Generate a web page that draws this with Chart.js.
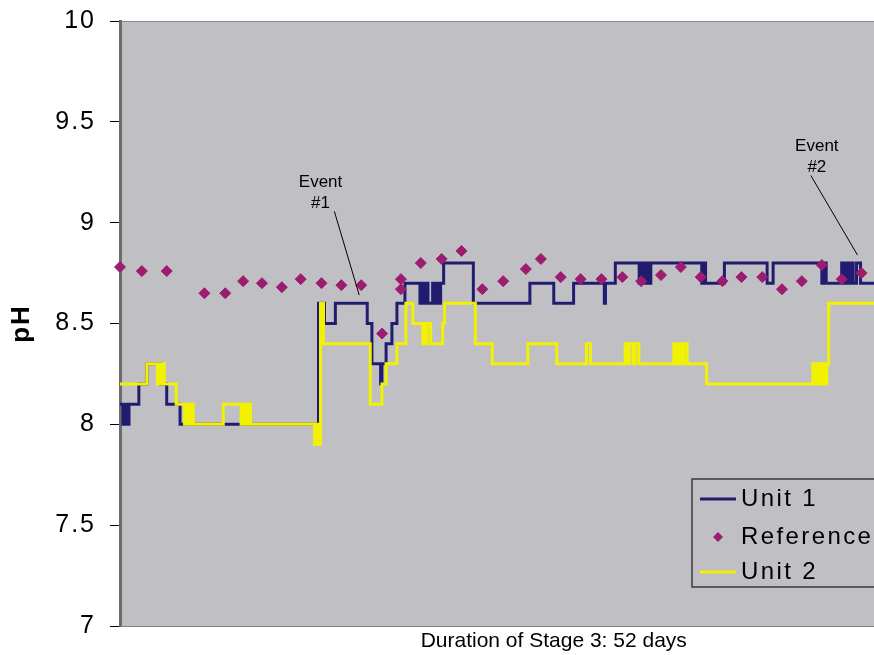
<!DOCTYPE html>
<html>
<head>
<meta charset="utf-8">
<title>pH - Stage 3</title>
<script src="https://cdn.jsdelivr.net/npm/chart.js@4.4.1/dist/chart.umd.min.js"></script>
<style>
    html, body { margin: 0; padding: 0; background: #fff; overflow: hidden; }
    #wrap { width: 994px; height: 655px; }
</style>
</head>
<body>
<div id="wrap"><canvas id="chart" width="994" height="655"></canvas></div>
<script>
// Unit 1 : jour du changement -> pH (la valeur tient jusqu'au point suivant)
const unit1Day = [0, 0.18, 0.30, 0.42, 0.54, 1.13, 1.61, 2.44, 2.80, 3.60,
    11.90, 12.26, 12.91, 14.82, 15.10, 15.62, 15.70, 15.95, 16.30, 16.60, 17.08,
    17.98, 18.10, 18.22, 18.34, 18.46, 18.74, 18.86, 18.98, 19.10, 19.22, 19.40,
    21.18, 24.57, 26.00, 27.19, 29.03, 29.10, 29.69,
    31.12, 31.26, 31.40, 31.54, 31.68, 31.82, 34.87, 34.98, 35.10, 36.23, 38.79, 39.15,
    42.07, 42.20, 42.33, 43.26, 43.40, 43.55, 43.70, 43.85, 43.95, 44.15, 44.39, 52];
const unit1PH = [8.1, 8.0, 8.1, 8.0, 8.1, 8.2, 8.3, 8.2, 8.1, 8.0,
    8.6, 8.5, 8.6, 8.5, 8.3, 8.2, 8.3, 8.4, 8.5, 8.6, 8.7,
    8.6, 8.7, 8.6, 8.7, 8.6, 8.7, 8.6, 8.7, 8.6, 8.7, 8.8,
    8.6, 8.7, 8.6, 8.7, 8.6, 8.7, 8.8,
    8.7, 8.8, 8.7, 8.8, 8.7, 8.8, 8.7, 8.8, 8.7, 8.8, 8.7, 8.8,
    8.7, 8.8, 8.7, 8.8, 8.7, 8.8, 8.7, 8.8, 8.7, 8.8, 8.7, 8.7];

// Unit 2
const unit2Day = [0, 1.61, 2.24, 2.36, 2.48, 2.58, 2.66, 3.37, 3.87, 4.00, 4.13, 4.26, 4.39,
    6.19, 7.26, 7.40, 7.54, 7.68, 7.82, 11.66, 11.78, 11.90, 12.02, 12.20,
    15.00, 15.70, 15.95, 16.60, 17.14, 17.55, 18.15, 18.20, 18.35, 18.40, 18.62, 19.34, 19.46,
    21.30, 22.31, 24.45, 26.18, 27.96, 28.20,
    30.28, 30.40, 30.52, 30.75, 30.87, 31.10, 33.20, 33.35, 33.50, 33.65, 33.80, 34.00,
    35.16, 41.53, 41.67, 41.81, 41.95, 42.09, 42.23, 42.37, 42.48, 52];
const unit2PH = [8.2, 8.3, 8.2, 8.3, 8.2, 8.3, 8.2, 8.1, 8.0, 8.1, 8.0, 8.1, 8.0,
    8.1, 8.0, 8.1, 8.0, 8.1, 8.0, 7.9, 8.0, 7.9, 8.6, 8.4,
    8.1, 8.2, 8.3, 8.4, 8.6, 8.5, 8.4, 8.5, 8.4, 8.5, 8.4, 8.5, 8.6,
    8.4, 8.3, 8.4, 8.3, 8.4, 8.3,
    8.4, 8.3, 8.4, 8.3, 8.4, 8.3, 8.4, 8.3, 8.4, 8.3, 8.4, 8.3,
    8.2, 8.3, 8.2, 8.3, 8.2, 8.3, 8.2, 8.3, 8.6, 8.6];

// Mesures de référence
const refDay = [0, 1.31, 2.80, 5.06, 6.31, 7.38, 8.51, 9.70, 10.83, 12.08, 13.27, 14.46,
    15.71, 16.84, 16.84, 18.03, 19.28, 20.47, 21.72, 22.97, 24.33, 25.23, 26.42, 27.61,
    28.86, 30.11, 31.24, 32.43, 33.62, 34.81, 36.11, 37.25, 38.50, 39.68, 40.87, 42.07,
    43.26, 44.45];
const refPH = [8.78, 8.76, 8.76, 8.65, 8.65, 8.71, 8.70, 8.68, 8.72, 8.70, 8.69, 8.69,
    8.45, 8.72, 8.67, 8.80, 8.82, 8.86, 8.67, 8.71, 8.77, 8.82, 8.73, 8.72,
    8.72, 8.73, 8.71, 8.74, 8.78, 8.73, 8.71, 8.73, 8.73, 8.67, 8.71, 8.79,
    8.72, 8.75];

const yTicks = [7, 7.5, 8, 8.5, 9, 9.5, 10];
const seriesNames = ['Unit 1', 'Reference', 'Unit 2'];
const xTitle = 'Duration of Stage 3: 52 days';

// Annotations des événements (en jours / pH)
const eventLines = [['Event', '#1'], ['Event', '#2']];
const eventTextDay = [12.02, 41.77];
const eventTextPH = [9.20, 9.38];
const eventFrom = [[12.85, 9.056], [41.41, 9.234]];
const eventTo = [[14.34, 8.641], [44.21, 8.839]];

const FONT = "'Liberation Sans', Arial, sans-serif";
const plotGray = '#c0c0c4';
const navy = '#221c70';
const yellow = '#f2f200';
const magenta = '#9c1c70';

function toPoints(days, values) {
    return days.map((d, i) => ({ x: d, y: values[i] }));
}

// Fond gris de la zone de tracé (+ espacement des lettres des graduations)
const plotBackground = {
    id: 'plotBackground',
    beforeDraw(chart) {
        const { ctx, chartArea: a } = chart;
        ctx.save();
        ctx.fillStyle = plotGray;
        ctx.fillRect(a.left, a.top, a.right - a.left, a.bottom - a.top);
        ctx.strokeStyle = '#8a8a8a';
        ctx.lineWidth = 1;
        ctx.beginPath();
        ctx.moveTo(a.left, a.top + 0.5);
        ctx.lineTo(a.right, a.top + 0.5);
        ctx.stroke();
        ctx.restore();
        ctx.letterSpacing = '2px';
    },
    afterDatasetsDraw(chart) {
        chart.ctx.letterSpacing = '0px';
    }
};

// Titre de l'axe des x
const axisTitle = {
    id: 'axisTitle',
    afterDraw(chart) {
        const { ctx, chartArea: a } = chart;
        ctx.save();
        ctx.letterSpacing = '0px';
        ctx.fillStyle = '#000';
        ctx.font = '21px ' + FONT;
        ctx.textAlign = 'center';
        ctx.textBaseline = 'middle';
        ctx.fillText(xTitle, (a.left + a.right) / 2, a.bottom + 15);
        ctx.restore();
    }
};

// Textes "Event" et traits de rappel
const eventNotes = {
    id: 'eventNotes',
    afterDatasetsDraw(chart) {
        const { ctx, scales: { x, y } } = chart;
        ctx.save();
        ctx.letterSpacing = '0px';
        ctx.fillStyle = '#000';
        ctx.strokeStyle = '#000';
        ctx.lineWidth = 1;
        ctx.font = '17px ' + FONT;
        ctx.textAlign = 'center';
        ctx.textBaseline = 'middle';
        eventLines.forEach((lines, i) => {
            const px = x.getPixelForValue(eventTextDay[i]);
            const py = y.getPixelForValue(eventTextPH[i]);
            lines.forEach((t, j) => ctx.fillText(t, px, py + j * 21));
            ctx.beginPath();
            ctx.moveTo(x.getPixelForValue(eventFrom[i][0]), y.getPixelForValue(eventFrom[i][1]));
            ctx.lineTo(x.getPixelForValue(eventTo[i][0]), y.getPixelForValue(eventTo[i][1]));
            ctx.stroke();
        });
        ctx.restore();
    }
};

// Légende dans la zone de tracé, en bas à droite
const boxLegend = {
    id: 'boxLegend',
    afterDraw(chart) {
        const { ctx } = chart;
        const left = 692, top = 479, width = 300, height = 108;
        ctx.save();
        ctx.fillStyle = plotGray;
        ctx.fillRect(left, top, width, height);
        ctx.strokeStyle = '#3a3a3a';
        ctx.lineWidth = 1.5;
        ctx.strokeRect(left, top, width, height);
        ctx.font = '24px ' + FONT;
        ctx.letterSpacing = '2.4px';
        ctx.textBaseline = 'middle';
        const rows = [499, 537, 572];
        seriesNames.forEach((name, i) => {
            const ds = chart.data.datasets.find(d => d.label === name);
            const yy = rows[i];
            if (ds.showLine === false) {
                ctx.fillStyle = ds.backgroundColor;
                ctx.beginPath();
                ctx.moveTo(718, yy - 5);
                ctx.lineTo(723, yy);
                ctx.lineTo(718, yy + 5);
                ctx.lineTo(713, yy);
                ctx.closePath();
                ctx.fill();
            } else {
                ctx.strokeStyle = ds.borderColor;
                ctx.lineWidth = 3;
                ctx.beginPath();
                ctx.moveTo(700, yy);
                ctx.lineTo(736, yy);
                ctx.stroke();
            }
            ctx.fillStyle = '#000';
            ctx.fillText(name, 741, yy);
        });
        ctx.restore();
    }
};

document.addEventListener('DOMContentLoaded', function() {
    const ctx = document.getElementById('chart').getContext('2d');
    new Chart(ctx, {
        type: 'line',
        data: {
            datasets: [
                {
                    label: 'Unit 1',
                    data: toPoints(unit1Day, unit1PH),
                    stepped: true,
                    borderColor: navy,
                    borderWidth: 3,
                    pointRadius: 0,
                    fill: false,
                    order: 2
                },
                {
                    label: 'Reference',
                    data: toPoints(refDay, refPH),
                    showLine: false,
                    pointStyle: 'rectRot',
                    pointRadius: 5.5,
                    backgroundColor: magenta,
                    borderColor: magenta,
                    borderWidth: 1,
                    clip: false,
                    order: 0
                },
                {
                    label: 'Unit 2',
                    data: toPoints(unit2Day, unit2PH),
                    stepped: true,
                    borderColor: yellow,
                    borderWidth: 3,
                    pointRadius: 0,
                    fill: false,
                    order: 1
                }
            ]
        },
        options: {
            responsive: false,
            animation: false,
            devicePixelRatio: 1,
            layout: { padding: { top: 21, right: 0, left: 0, bottom: 0 } },
            plugins: {
                legend: { display: false },
                tooltip: { enabled: false }
            },
            scales: {
                x: {
                    type: 'linear',
                    min: 0,
                    max: 52,
                    ticks: { display: false },
                    grid: { display: false, drawTicks: false },
                    border: { display: true, color: '#808080', width: 1 },
                    title: { display: false },
                    afterFit(scale) { scale.height = 29; }
                },
                y: {
                    min: 7,
                    max: 10,
                    afterBuildTicks(scale) { scale.ticks = yTicks.map(v => ({ value: v })); },
                    ticks: {
                        color: '#000',
                        font: { family: FONT, size: 25 },
                        padding: 14,
                        callback: v => String(v)
                    },
                    grid: { drawOnChartArea: false, drawTicks: true, tickLength: 10, tickColor: '#000', tickWidth: 1 },
                    border: { display: true, color: '#6b6b6b', width: 3 },
                    title: {
                        display: true,
                        text: 'pH',
                        color: '#000',
                        font: { family: FONT, size: 26, weight: 'bold' },
                        padding: { top: 6, bottom: 0 }
                    },
                    afterFit(scale) {
                        scale.width = 120;
                        scale.paddingTop = 0;
                        scale.paddingBottom = 0;
                    }
                }
            }
        },
        plugins: [plotBackground, axisTitle, eventNotes, boxLegend]
    });
});
</script>
</body>
</html>
